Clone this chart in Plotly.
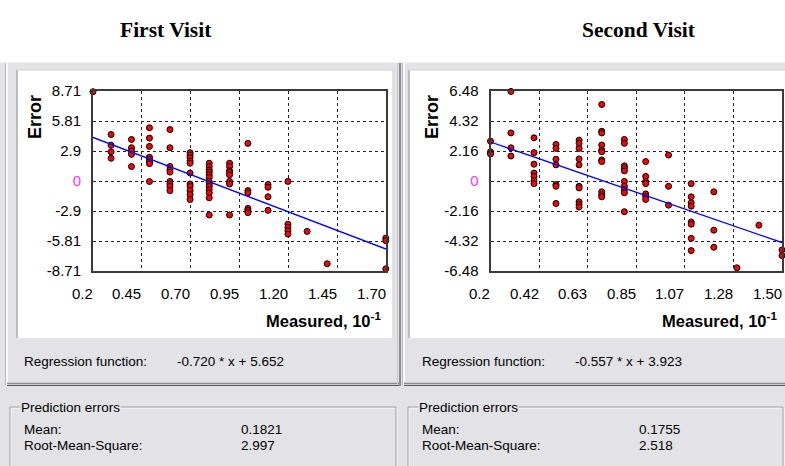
import plotly.graph_objects as go

W, H = 785, 466

# ---------------- data ----------------
visit_titles = ["First Visit", "Second Visit"]

# First visit: measured (x10^-1) column positions and error values per column
v1_cols = [0.2, 0.2925, 0.397, 0.489, 0.594, 0.697, 0.795, 0.899, 0.993, 1.096, 1.198, 1.296, 1.399, 1.699]
v1_errs = [
    [8.64],
    [4.50, 3.47, 2.83, 2.20],
    [4.02, 3.22, 2.90, 2.58, 1.40],
    [5.15, 4.15, 3.35, 2.30, 2.10, 1.85, 1.68, -0.05],
    [4.98, 3.22, 1.40, 1.08, 0.86, -0.04, -0.29, -0.52, -0.93],
    [2.74, 2.52, 2.26, 1.94, 1.72, 0.77, -0.29, -0.52, -0.93, -1.31, -1.79],
    [1.72, 1.40, 1.08, 0.86, 0.60, 0.34, -0.04, -0.29, -0.52, -0.83, -1.15, -1.63, -3.29],
    [1.72, 1.40, 0.99, 0.86, 0.60, -0.04, -0.29, -3.29],
    [3.64, -0.93, -1.15, -2.65, -2.84, -3.06],
    [-0.35, -0.61, -1.53, -2.84],
    [-0.04, -4.18, -4.50, -4.82, -5.14],
    [-4.88],
    [-8.01],
    [-5.52, -5.78, -8.50],
]
v1_slope, v1_intercept = -0.720, 5.652
v1_xrange = [0.2, 1.7]
v1_ymax = 8.71
v1_xticks = ["0.2", "0.45", "0.70", "0.95", "1.20", "1.45", "1.70"]
v1_yticks = ["8.71", "5.81", "2.9", "0", "-2.9", "-5.81", "-8.71"]
v1_mean, v1_rms = "0.1821", "2.997"

# Second visit
v2_cols = [0.2, 0.291, 0.394, 0.492, 0.595, 0.696, 0.797, 0.892, 0.994, 1.095, 1.196, 1.299, 1.397, 1.5]
v2_errs = [
    [2.87, 2.10, 1.95],
    [6.45, 3.46, 2.39, 1.80],
    [3.11, 2.04, 1.21, 0.57, 0.33, 0.02, -0.19],
    [2.63, 2.35, 1.57, 1.16, -0.26, -0.38, -1.62],
    [2.94, 2.71, 2.35, 1.59, 1.16, -0.38, -0.50, -1.50, -1.69, -1.88],
    [5.51, 3.58, 3.46, 2.59, 2.23, 2.11, 1.52, 1.40, -0.78, -0.98, -1.14],
    [2.99, 2.71, 1.09, 0.93, 0.73, -0.03, -0.38, -0.62, -0.85, -2.21],
    [1.40, 0.33, -0.03, -0.19, -0.93, -1.10, -1.33],
    [1.87, -0.38, -1.74],
    [-0.19, -1.14, -1.57, -1.81, -2.95, -3.11, -4.13, -5.01],
    [-0.78, -3.54, -4.77],
    [-6.25],
    [-3.18],
    [-4.96, -5.37],
]
v2_slope, v2_intercept = -0.557, 3.923
v2_xrange = [0.2, 1.5]
v2_ymax = 6.48
v2_xticks = ["0.2", "0.42", "0.63", "0.85", "1.07", "1.28", "1.50"]
v2_yticks = ["6.48", "4.32", "2.16", "0", "-2.16", "-4.32", "-6.48"]
v2_mean, v2_rms = "0.1755", "2.518"

# ---------------- helpers ----------------
def px(x):
    return x / W

def py(y):
    return 1 - y / H

GRAY = "#E3E2E6"
SANS = "Liberation Sans, Arial, sans-serif"
SERIF = "Liberation Serif, Times New Roman, serif"
MAGENTA = "#FF33FF"

fig = go.Figure()

panels = [
    dict(cols=v1_cols, errs=v1_errs, slope=v1_slope, icpt=v1_intercept, xr=v1_xrange,
         ymax=v1_ymax, xt=v1_xticks, yt=v1_yticks, mean=v1_mean, rms=v1_rms,
         plot_x=(93, 386), off=0, title=visit_titles[0]),
    dict(cols=v2_cols, errs=v2_errs, slope=v2_slope, icpt=v2_intercept, xr=v2_xrange,
         ymax=v2_ymax, xt=v2_xticks, yt=v2_yticks, mean=v2_mean, rms=v2_rms,
         plot_x=(490.5, 782), off=398, title=visit_titles[1]),
]

PLOT_TOP, PLOT_BOT = 91, 271

shapes = []
annotations = []

# background gray for the dialog area
shapes.append(dict(type="rect", xref="paper", yref="paper", x0=0, x1=1, y0=0, y1=py(62.5),
                   fillcolor=GRAY, line=dict(width=0), layer="below"))

for i, p in enumerate(panels):
    ax = "" if i == 0 else str(i + 1)
    xs = [c for c, ys in zip(p["cols"], p["errs"]) for _ in ys]
    ys = [v for ys in p["errs"] for v in ys]
    fig.add_trace(go.Scatter(
        x=xs, y=ys, mode="markers", xaxis="x" + ax, yaxis="y" + ax,
        marker=dict(size=6, color="#FF0000", line=dict(width=1, color="#000000")),
        cliponaxis=False, showlegend=False, hoverinfo="skip"))
    lx = p["xr"]
    ly = [p["slope"] * (v * 10) + p["icpt"] for v in lx]
    fig.add_trace(go.Scatter(
        x=lx, y=ly, mode="lines", xaxis="x" + ax, yaxis="y" + ax,
        line=dict(color="#0000FF", width=1.3), showlegend=False, hoverinfo="skip"))

    n = len(p["xt"])
    xstep = (p["xr"][1] - p["xr"][0]) / (n - 1)
    xtv = [p["xr"][0] + k * xstep for k in range(n)]
    ytv = [p["ymax"] - k * p["ymax"] / 3 for k in range(len(p["yt"]))]
    yt_text = [("<span style='color:%s'>0</span>" % MAGENTA) if t == "0" else t for t in p["yt"]]

    common = dict(showgrid=True, gridcolor="#222222", griddash="dot", gridwidth=1,
                  showline=True, mirror=True, linecolor="#3a3a3a", linewidth=2,
                  zeroline=False, ticks="", automargin=False,
                  tickfont=dict(family=SANS, size=15, color="#000"),
                  fixedrange=True)
    fig.update_layout(**{
        "xaxis" + ax: dict(domain=[px(p["plot_x"][0]), px(p["plot_x"][1])], range=p["xr"],
                           tickmode="array", tickvals=xtv, ticktext=p["xt"], showticklabels=False,
                           anchor="y" + ax, **common),
        "yaxis" + ax: dict(domain=[py(PLOT_BOT), py(PLOT_TOP)], range=[-p["ymax"], p["ymax"]],
                           tickmode="array", tickvals=ytv, ticktext=yt_text,
                           anchor="x" + ax, ticklabelstandoff=7, **common),
    })
    # x tick labels: right-aligned on their tick positions (placed on the x axis scale)
    for v, t in zip(xtv, p["xt"]):
        annotations.append(dict(text=t, x=v, xref="x" + ax, y=py(293), yref="paper",
                                showarrow=False, xanchor="right", yanchor="middle",
                                xshift=1.5, font=dict(family=SANS, size=15, color="#000")))

    o = p["off"]
    # upper raised panel
    right_edge = 401 if i == 0 else 790
    left_edge = 7 if i == 0 else 404
    shapes += [
        dict(type="line", xref="paper", yref="paper", x0=px(left_edge), x1=px(left_edge),
             y0=py(63), y1=py(385), line=dict(color="#FFFFFF", width=1.5), layer="below"),
        dict(type="line", xref="paper", yref="paper", x0=px(left_edge - 1.5), x1=px(left_edge - 1.5),
             y0=py(63), y1=py(385), line=dict(color="#B8B8BC", width=1), layer="below"),
        dict(type="line", xref="paper", yref="paper", x0=px(left_edge), x1=px(right_edge),
             y0=py(383.5), y1=py(383.5), line=dict(color="#8A8A8E", width=1.5), layer="below"),
        dict(type="line", xref="paper", yref="paper", x0=px(left_edge), x1=px(right_edge),
             y0=py(385.5), y1=py(385.5), line=dict(color="#5A5A5E", width=1), layer="below"),
    ]
    if i == 0:
        shapes += [
            dict(type="line", xref="paper", yref="paper", x0=px(400), x1=px(400),
                 y0=py(63), y1=py(386), line=dict(color="#8A8A8E", width=2), layer="below"),
            dict(type="line", xref="paper", yref="paper", x0=px(397.5), x1=px(397.5),
                 y0=py(63), y1=py(384), line=dict(color="#C8C8CC", width=1), layer="below"),
        ]
    # white sunken box
    bx0, bx1 = (17, 393) if i == 0 else (409, 790)
    shapes += [
        dict(type="rect", xref="paper", yref="paper", x0=px(bx0), x1=px(bx1), y0=py(338), y1=py(70),
             fillcolor="#FFFFFF", line=dict(width=0), layer="below"),
        dict(type="line", xref="paper", yref="paper", x0=px(bx0), x1=px(bx0), y0=py(338), y1=py(70),
             line=dict(color="#A8A8AC", width=1.5), layer="below"),
        dict(type="line", xref="paper", yref="paper", x0=px(bx0), x1=px(bx1), y0=py(70), y1=py(70),
             line=dict(color="#D0D0D4", width=1), layer="below"),
        dict(type="line", xref="paper", yref="paper", x0=px(bx1), x1=px(bx1), y0=py(338), y1=py(70),
             line=dict(color="#D0D0D4", width=1), layer="below"),
    ]
    # group box (etched)
    gx0, gx1 = (10, 396) if i == 0 else (408, 783)
    shapes += [
        dict(type="rect", xref="paper", yref="paper", x0=px(gx0 + 1), x1=px(gx1 + 1), y0=py(480), y1=py(408),
             fillcolor="rgba(0,0,0,0)", line=dict(color="#FFFFFF", width=1), layer="below"),
        dict(type="rect", xref="paper", yref="paper", x0=px(gx0), x1=px(gx1), y0=py(480), y1=py(407),
             fillcolor="rgba(0,0,0,0)", line=dict(color="#A0A0A4", width=1), layer="below"),
    ]

    tx = 22 + o
    # titles
    annotations.append(dict(text="<b>%s</b>" % p["title"], x=px(166 + (473 if i else 0)), y=py(30),
                            xref="paper", yref="paper", showarrow=False, xanchor="center", yanchor="middle",
                            font=dict(family=SERIF, size=21.5, color="#000")))
    # axis titles
    annotations.append(dict(text="<b>Error</b>", x=px(35 + o + (0 if i == 0 else -1)), y=py(117),
                            xref="paper", yref="paper", showarrow=False, textangle=-90,
                            xanchor="center", yanchor="middle",
                            font=dict(family=SANS, size=18, color="#000")))
    annotations.append(dict(text="<b>Measured, 10<sup>-1</sup></b>", x=px(p["plot_x"][1] - 3), y=py(320),
                            xref="paper", yref="paper", showarrow=False, xanchor="right", yanchor="middle",
                            font=dict(family=SANS, size=16.5, color="#000")))
    # regression text
    annotations.append(dict(text="Regression function:", x=px(tx), y=py(361), xref="paper", yref="paper",
                            showarrow=False, xanchor="left", yanchor="middle",
                            font=dict(family=SANS, size=13.5, color="#000")))
    annotations.append(dict(text="%.3f * x + %.3f" % (p["slope"], p["icpt"]), x=px(tx + 153), y=py(361),
                            xref="paper", yref="paper", showarrow=False, xanchor="left", yanchor="middle",
                            font=dict(family=SANS, size=13.5, color="#000")))
    annotations.append(dict(text="Prediction errors", x=px(tx - 2), y=py(407.5), xref="paper", yref="paper",
                            showarrow=False, xanchor="left", yanchor="middle", bgcolor=GRAY, borderpad=0,
                            font=dict(family=SANS, size=13.5, color="#000")))
    for lab, val, yy in [("Mean:", p["mean"], 429), ("Root-Mean-Square:", p["rms"], 445)]:
        annotations.append(dict(text=lab, x=px(tx), y=py(yy), xref="paper", yref="paper",
                                showarrow=False, xanchor="left", yanchor="middle",
                                font=dict(family=SANS, size=13.5, color="#000")))
        annotations.append(dict(text=val, x=px(tx + 217), y=py(yy), xref="paper", yref="paper",
                                showarrow=False, xanchor="left", yanchor="middle",
                                font=dict(family=SANS, size=13.5, color="#000")))

fig.update_layout(
    template="none",
    width=W, height=H, margin=dict(l=0, r=0, t=0, b=0, autoexpand=False),
    paper_bgcolor="#FFFFFF", plot_bgcolor="rgba(0,0,0,0)",
    shapes=shapes, annotations=annotations, showlegend=False,
)

fig.write_html("out.html")
